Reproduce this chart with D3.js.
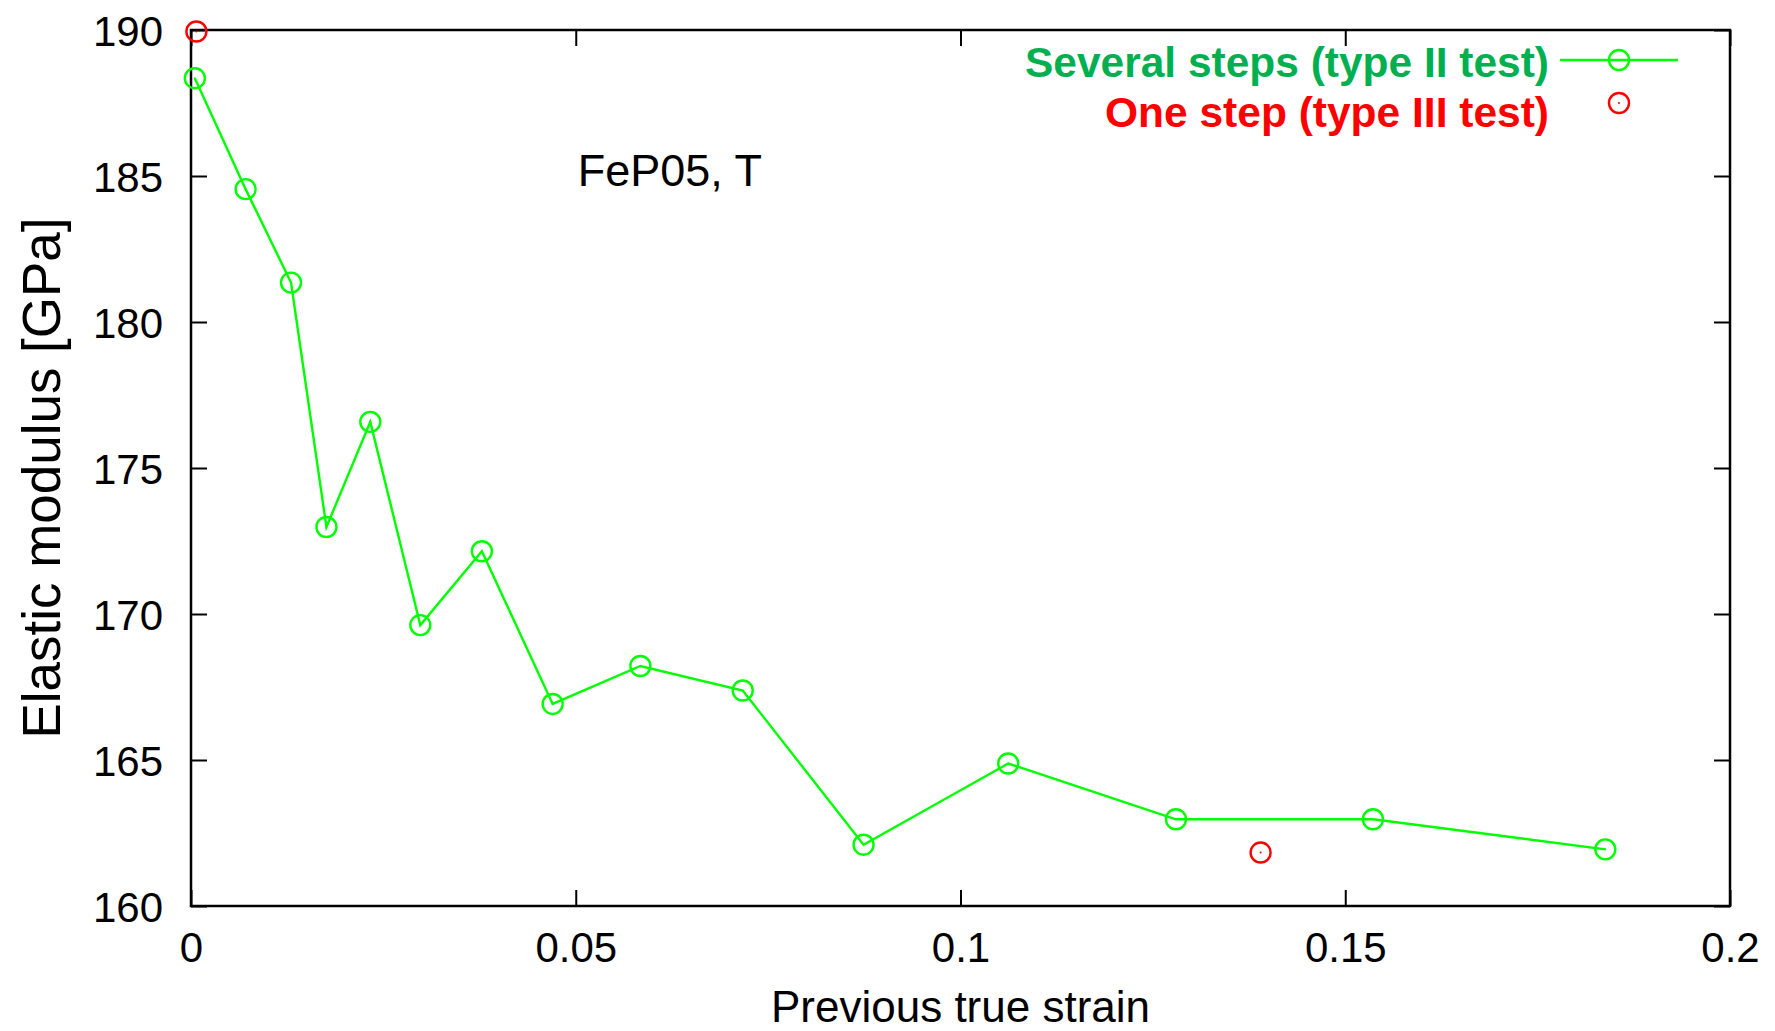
<!DOCTYPE html>
<html>
<head>
<meta charset="utf-8">
<script src="https://cdnjs.cloudflare.com/ajax/libs/d3/7.8.5/d3.min.js"></script>
<style>
  body { margin: 0; background: #fff; }
  text { font-family: "Liberation Sans", Arial, sans-serif; }
</style>
</head>
<body>
<div id="chart"></div>
<script>
/*
	Elastic modulus vs previous true strain (FeP05, T)
*/

// data
var severalStrain  = [0.0005, 0.0071, 0.0130, 0.0176, 0.0233, 0.0298, 0.0378, 0.0470, 0.0584, 0.0717, 0.0874, 0.1062, 0.1280, 0.1536, 0.1838];
var severalModulus = [188.35, 184.55, 181.35, 172.98, 176.58, 169.62, 172.15, 166.92, 168.22, 167.38, 162.10, 164.88, 162.97, 162.97, 161.94];

var oneStrain  = [0.0007, 0.1390];
var oneModulus = [189.95, 161.83];

var xTicks = [0, 0.05, 0.1, 0.15, 0.2];
var xTickLabels = ["0", "0.05", "0.1", "0.15", "0.2"];
var yTicks = [160, 165, 170, 175, 180, 185, 190];

var fullWidth = 1775, fullHeight = 1031;
var margin = {top: 30, right: 45, bottom: 125, left: 191},
    width = fullWidth - margin.left - margin.right,
    height = fullHeight - margin.top - margin.bottom;

var x = d3.scaleLinear().domain([0, 0.2]).range([0, width]);
var y = d3.scaleLinear().domain([160, 190]).range([height, 0]);

var svg = d3.select("#chart").append("svg")
    .attr("width", fullWidth)
    .attr("height", fullHeight)
    .append("g")
    .attr("transform", "translate(" + margin.left + "," + margin.top + ")");

var tickLen = 16;

//ticks inside, mirrored on all four sides
svg.append("g")
    .attr("class", "axis axis--x")
    .attr("transform", "translate(0," + height + ")")
    .call(d3.axisBottom(x).tickValues(xTicks).tickSizeInner(-tickLen).tickSizeOuter(0)
        .tickFormat(function(d, i) { return xTickLabels[i]; }));

svg.append("g")
    .attr("class", "axis axis--xtop")
    .call(d3.axisTop(x).tickValues(xTicks).tickSizeInner(-tickLen).tickSizeOuter(0).tickFormat(""));

svg.append("g")
    .attr("class", "axis axis--y")
    .call(d3.axisLeft(y).tickValues(yTicks).tickSizeInner(-tickLen).tickSizeOuter(0));

svg.append("g")
    .attr("class", "axis axis--yright")
    .attr("transform", "translate(" + width + ",0)")
    .call(d3.axisRight(y).tickValues(yTicks).tickSizeInner(-tickLen).tickSizeOuter(0).tickFormat(""));

svg.selectAll(".axis path").remove();
svg.selectAll(".axis line").attr("stroke", "#000").attr("stroke-width", 2);
svg.selectAll(".axis text")
    .attr("fill", "#000")
    .style("font-size", "42px");

svg.selectAll(".axis--x text").attr("y", 0).attr("dy", "56px");
svg.selectAll(".axis--y text").attr("x", -28).attr("dy", "15px");

//frame
svg.append("rect")
    .attr("width", width)
    .attr("height", height)
    .attr("fill", "none")
    .attr("stroke", "#000")
    .attr("stroke-width", 2.5);

//axis titles
svg.append("text")
    .attr("x", width / 2)
    .attr("y", height + 116)
    .attr("text-anchor", "middle")
    .style("font-size", "44px")
    .text("Previous true strain");

svg.append("text")
    .attr("transform", "translate(" + (-131) + "," + 448 + ") rotate(-90)")
    .attr("text-anchor", "middle")
    .style("font-size", "54px")
    .attr("textLength", 521)
    .attr("lengthAdjust", "spacingAndGlyphs")
    .text("Elastic modulus [GPa]");

svg.append("text")
    .attr("x", x(0.05) + 2)
    .attr("y", 156)
    .style("font-size", "45px")
    .text("FeP05, T");

//several steps line
var severalData = severalStrain.map(function(d, i) { return {x: d, y: severalModulus[i]}; });
var oneData = oneStrain.map(function(d, i) { return {x: d, y: oneModulus[i]}; });

var line = d3.line()
    .x(function(d) { return x(d.x); })
    .y(function(d) { return y(d.y); });

svg.append("path")
    .datum(severalData)
    .attr("fill", "none")
    .attr("stroke", "#00ff00")
    .attr("stroke-width", 2.4)
    .attr("d", line);

function drawMarkers(data, color) {
    var g = svg.append("g");
    g.selectAll("circle.pt")
        .data(data)
        .enter().append("circle")
        .attr("class", "pt")
        .attr("cx", function(d) { return x(d.x); })
        .attr("cy", function(d) { return y(d.y); })
        .attr("r", 10)
        .attr("fill", "none")
        .attr("stroke", color)
        .attr("stroke-width", 2.4);
    g.selectAll("circle.dot")
        .data(data)
        .enter().append("circle")
        .attr("class", "dot")
        .attr("cx", function(d) { return x(d.x); })
        .attr("cy", function(d) { return y(d.y); })
        .attr("r", 1)
        .attr("fill", color);
}

drawMarkers(severalData, "#00ff00");
drawMarkers(oneData, "#ff0000");

//legend
var legend = svg.append("g").attr("transform", "translate(" + (-margin.left) + "," + (-margin.top) + ")");

legend.append("text")
    .attr("x", 1549)
    .attr("y", 77)
    .attr("text-anchor", "end")
    .attr("fill", "#00b050")
    .style("font-size", "43px")
    .style("font-weight", "bold")
    .attr("textLength", 524)
    .attr("lengthAdjust", "spacingAndGlyphs")
    .text("Several steps (type II test)");

legend.append("line")
    .attr("x1", 1560).attr("x2", 1678)
    .attr("y1", 60).attr("y2", 60)
    .attr("stroke", "#00ff00")
    .attr("stroke-width", 2.5);

legend.append("circle")
    .attr("cx", 1619).attr("cy", 60).attr("r", 10)
    .attr("fill", "none").attr("stroke", "#00ff00").attr("stroke-width", 2.4);

legend.append("text")
    .attr("x", 1549)
    .attr("y", 127)
    .attr("text-anchor", "end")
    .attr("fill", "#ff0000")
    .style("font-size", "43px")
    .style("font-weight", "bold")
    .attr("textLength", 444)
    .attr("lengthAdjust", "spacingAndGlyphs")
    .text("One step (type III test)");

legend.append("circle")
    .attr("cx", 1619).attr("cy", 103).attr("r", 10)
    .attr("fill", "none").attr("stroke", "#ff0000").attr("stroke-width", 2.4);
legend.append("circle")
    .attr("cx", 1619).attr("cy", 103).attr("r", 1)
    .attr("fill", "#ff0000");
</script>
</body>
</html>
